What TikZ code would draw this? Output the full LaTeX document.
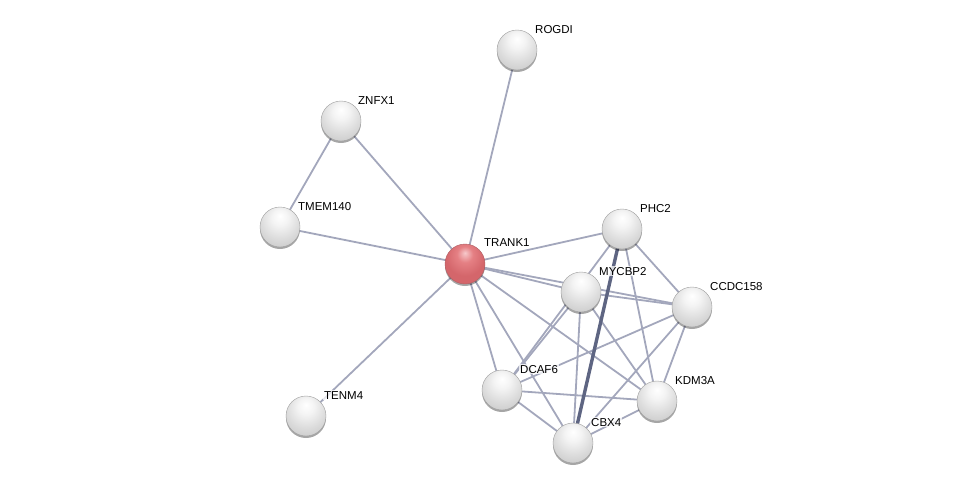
\documentclass[tikz,border=0pt]{standalone}
\usepackage{fontspec}
\setmainfont{Liberation Sans}
\usetikzlibrary{backgrounds,shadows}
\definecolor{edgecol}{HTML}{A3A7BC}
\definecolor{thickcol}{HTML}{5E6582}
\definecolor{grayA}{HTML}{F4F4F4}
\definecolor{grayB}{HTML}{DCDCDC}
\definecolor{grayC}{HTML}{BDBDBD}
\definecolor{grayD}{HTML}{808080}
\definecolor{redA}{HTML}{F6C9CB}
\definecolor{redB}{HTML}{E58084}
\definecolor{redC}{HTML}{D4666B}
\definecolor{redD}{HTML}{9A3A3F}
\pgfdeclareradialshading{stringball}{\pgfpoint{0bp}{14bp}}{%
  color(0bp)=(white); color(10bp)=(grayA); color(24bp)=(grayB);
  color(44bp)=(grayC); color(58bp)=(grayD); color(70bp)=(grayD)}
\pgfdeclareradialshading{stringred}{\pgfpoint{0bp}{14bp}}{%
  color(0bp)=(redA); color(10bp)=(redB); color(24bp)=(redC);
  color(48bp)=(redC); color(58bp)=(redD); color(70bp)=(redD)}
\tikzset{
  prot/.style={circle, minimum size=40pt, inner sep=0pt, shading=stringball,
    draw=gray!75, line width=0.4pt,
    drop shadow={shadow xshift=0pt, shadow yshift=-2pt, fill=black, opacity=0.35}},
  query/.style={prot, shading=stringred, draw=redD!80},
  lbl/.style={anchor=base west, inner sep=1pt, fill=white, fill opacity=0.75,
    text opacity=1, font=\fontsize{11.5}{13}\selectfont, text=black},
  edge/.style={draw=edgecol, line width=1.8pt},
  strong/.style={draw=thickcol, line width=3.4pt},
}
\begin{document}
\begin{tikzpicture}[x=1pt, y=-1pt]
\useasboundingbox (0,0) rectangle (976,488);
% proteins
\node[prot]  (rogdi)   at (517,50)  {};
\node[prot]  (znfx1)   at (341,121) {};
\node[prot]  (tmem140) at (280,227) {};
\node[query] (trank1)  at (465,264) {};
\node[prot]  (phc2)    at (622,229) {};
\node[prot]  (mycbp2)  at (581,292) {};
\node[prot]  (ccdc158) at (692,307) {};
\node[prot]  (dcaf6)   at (502,390) {};
\node[prot]  (kdm3a)   at (657,401) {};
\node[prot]  (cbx4)    at (573,443) {};
\node[prot]  (tenm4)   at (306,416) {};
% edges (behind)
\begin{scope}[on background layer]
\draw[edge] (rogdi.center) -- (trank1.center);
\draw[edge] (znfx1.center) -- (tmem140.center);
\draw[edge] (znfx1.center) -- (trank1.center);
\draw[edge] (tmem140.center) -- (trank1.center);
\draw[edge] (tenm4.center) -- (trank1.center);
\draw[edge] (trank1.center) -- (phc2.center);
\draw[edge] (trank1.center) -- (mycbp2.center);
\draw[edge] (trank1.center) -- (ccdc158.center);
\draw[edge] (trank1.center) -- (dcaf6.center);
\draw[edge] (trank1.center) -- (cbx4.center);
\draw[edge] (trank1.center) -- (kdm3a.center);
\draw[edge] (phc2.center) -- (dcaf6.center);
\draw[edge] (phc2.center) -- (ccdc158.center);
\draw[edge] (phc2.center) -- (kdm3a.center);
\draw[edge] (mycbp2.center) -- (ccdc158.center);
\draw[edge] (mycbp2.center) -- (dcaf6.center);
\draw[edge] (mycbp2.center) -- (cbx4.center);
\draw[edge] (mycbp2.center) -- (kdm3a.center);
\draw[edge] (ccdc158.center) -- (dcaf6.center);
\draw[edge] (ccdc158.center) -- (kdm3a.center);
\draw[edge] (ccdc158.center) -- (cbx4.center);
\draw[edge] (dcaf6.center) -- (kdm3a.center);
\draw[edge] (dcaf6.center) -- (cbx4.center);
\draw[edge] (kdm3a.center) -- (cbx4.center);
\draw[strong] (phc2.center) -- (cbx4.center);
\end{scope}
% labels
\node[lbl] (l-rogdi)   at ([shift={(17,-17)}]rogdi.center)   {ROGDI};
\node[lbl] (l-znfx1)   at ([shift={(16,-17)}]znfx1.center)   {ZNFX1};
\node[lbl] (l-tmem140) at ([shift={(17,-17)}]tmem140.center) {TMEM140};
\node[lbl] (l-trank1)  at ([shift={(18,-18)}]trank1.center)  {TRANK1};
\node[lbl] (l-phc2)    at ([shift={(17,-17)}]phc2.center)    {PHC2};
\node[lbl] (l-mycbp2)  at ([shift={(17,-17)}]mycbp2.center)  {MYCBP2};
\node[lbl] (l-ccdc158) at ([shift={(17,-17)}]ccdc158.center) {CCDC158};
\node[lbl] (l-dcaf6)   at ([shift={(17,-17)}]dcaf6.center)   {DCAF6};
\node[lbl] (l-kdm3a)   at ([shift={(17,-17)}]kdm3a.center)   {KDM3A};
\node[lbl] (l-cbx4)    at ([shift={(17,-17)}]cbx4.center)    {CBX4};
\node[lbl] (l-tenm4)   at ([shift={(17,-17)}]tenm4.center)   {TENM4};
\end{tikzpicture}
\end{document}
